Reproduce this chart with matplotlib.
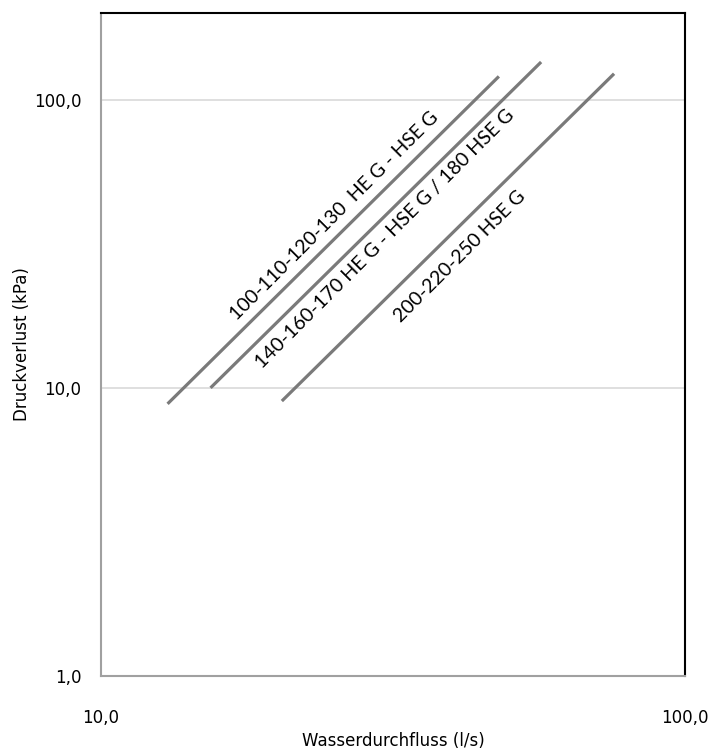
import matplotlib.pyplot as plt
import matplotlib.ticker as mticker
import numpy as np

# Wasserdurchfluss (l/s) vs. Druckverlust (kPa), Endpunkte je Kennlinie
series_names = [
    "100-110-120-130  HE G - HSE G",
    "140-160-170 HE G - HSE G / 180 HSE G",
    "200-220-250 HSE G",
]
flow_start = [13.0, 15.4, 20.4]
flow_end = [48.0, 56.7, 75.6]
dp_start = [8.8, 10.0, 9.0]
dp_end = [120.5, 135.2, 123.1]

# label anchor points (data coords) for the rotated captions
label_x = [25.1, 30.6, 41.2]
label_y = [39.6, 33.0, 28.5]
label_size = [14, 14.2, 14]

x_ticks = [10, 100]
y_ticks = [1, 10, 100]

fig = plt.figure(figsize=(7.12, 7.52), dpi=100)
ax = fig.add_axes([0.1419, 0.1011, 0.8202, 0.8816])

for i in range(len(series_names)):
    ax.plot([flow_start[i], flow_end[i]], [dp_start[i], dp_end[i]],
            color='#7a7a7a', linewidth=2.3, solid_capstyle='butt', zorder=3)

ax.set_xscale('log')
ax.set_yscale('log')
ax.set_xlim(10, 100)
ax.set_ylim(1, 200)

ax.set_xticks(x_ticks)
ax.set_yticks(y_ticks)
ax.xaxis.set_minor_locator(mticker.NullLocator())
ax.yaxis.set_minor_locator(mticker.NullLocator())
fmt = mticker.FuncFormatter(lambda v, p: f"{v:.1f}".replace('.', ','))
ax.xaxis.set_major_formatter(fmt)
ax.yaxis.set_major_formatter(fmt)
ax.tick_params(axis='both', length=0, labelsize=12, colors='#000000')
ax.tick_params(axis='x', pad=24)
ax.tick_params(axis='y', pad=14)

ax.grid(axis='y', color='#d9d9d9', linewidth=1.2)
ax.set_axisbelow(True)

for s in ['left', 'bottom']:
    ax.spines[s].set_color('#a0a0a0')
    ax.spines[s].set_linewidth(1.5)
for s in ['top', 'right']:
    ax.spines[s].set_color('#000000')
    ax.spines[s].set_linewidth(1.5)

xl = ax.set_xlabel('Wasserdurchfluss (l/s)', fontsize=12)
xl.set_va('center')
ax.xaxis.set_label_coords(0.5, -0.098)
yl = ax.set_ylabel('Druckverlust (kPa)', fontsize=12)
yl.set_va('center')
ax.yaxis.set_label_coords(-0.135, 0.5)

for i, name in enumerate(series_names):
    ax.text(label_x[i], label_y[i], name, rotation=45, rotation_mode='anchor',
            ha='center', va='center', fontsize=label_size[i], family='Lato', zorder=4)

plt.savefig('out.png', dpi=100)
